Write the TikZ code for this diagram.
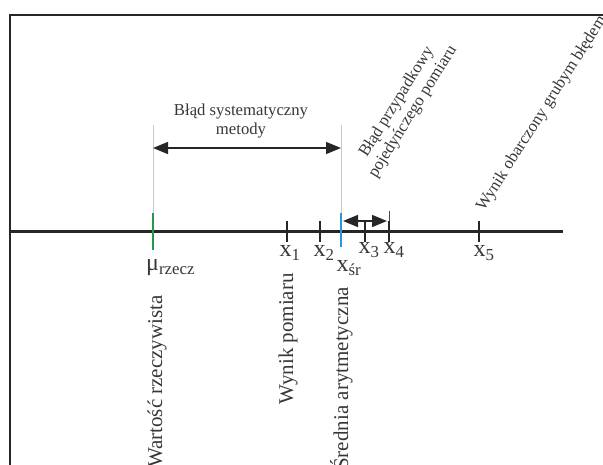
\documentclass[tikz,border=0pt]{standalone}
\usepackage{fontspec}
\setmainfont{Liberation Serif}
\usetikzlibrary{arrows.meta}

\definecolor{zielony}{RGB}{40,150,80}
\definecolor{niebieski}{RGB}{40,150,215}
\definecolor{szary}{RGB}{200,200,200}
\definecolor{tekst}{RGB}{55,55,55}

\tikzset{
  os/.style={line width=3pt,black!85},
  kreska/.style={line width=2.2pt,black!85},
  pomoc/.style={line width=1pt,szary},
  strzalka/.style={line width=1.5pt,black!85,
    {Triangle[length=15pt,width=12pt]}-{Triangle[length=15pt,width=12pt]}},
  opis/.style={text=tekst,font=\fontsize{16.7}{19}\selectfont,inner sep=0pt},
  pion/.style={text=tekst,font=\fontsize{21}{24}\selectfont,inner sep=0pt,
    rotate=90,anchor=base east},
  znak/.style={text=tekst,font=\fontsize{24}{26}\selectfont,inner sep=0pt}
}

\begin{document}
\begin{tikzpicture}[x=1pt,y=-1pt]
   \useasboundingbox (0,0) rectangle (603,464);
   \clip (0,0) rectangle (603,464);
   % ramka
   \draw[line width=2pt,black!85] (10,700) |- (700,15);
   % os liczbowa
   \coordinate (lewy)  at (10,231);
   \coordinate (prawy) at (563,231);
   \coordinate (mu)  at (153,231);
   \coordinate (x1)  at (287,231);
   \coordinate (x2)  at (320,231);
   \coordinate (xsr) at (341,231);
   \coordinate (x3)  at (365,231);
   \coordinate (x4)  at (389,231);
   \coordinate (x5)  at (479,231);
   \draw[os] (lewy) -- (prawy);
   \foreach \p in {x1,x2,x3,x4,x5}
      \draw[kreska] ([yshift=10pt]\p) -- ([yshift=-11pt]\p);
   \draw[kreska,zielony] ([yshift=18pt]mu) -- ([yshift=-19pt]mu);
   \draw[kreska,niebieski] ([yshift=18pt]xsr) -- ([yshift=-16pt]xsr);
   % linie pomocnicze
   \draw[pomoc] ([yshift=106pt]mu) -- ([yshift=18pt]mu);
   \draw[pomoc] ([yshift=106pt]xsr) -- ([yshift=18pt]xsr);
   \draw[line width=1pt,black!70] ([yshift=20pt]x4) -- ([yshift=10pt]x4);
   % bledy
   \draw[strzalka] ([yshift=83pt]mu) -- ([yshift=83pt]xsr);
   \draw[strzalka] ([xshift=2pt,yshift=10pt]xsr) -- ([xshift=-2pt,yshift=10pt]x4);
   \node[opis,align=center] (sys) at (241,121) {Błąd systematyczny\\metody};
   \node[opis,align=center,rotate=58] (przyp) at (405,107)
      {Błąd przypadkowy\\pojedyńczego pomiaru};
   \node[opis,rotate=57.5,anchor=base west] (gruby) at (484,212)
      {Wynik obarczony grubym błędem};
   % oznaczenia
   \node[znak,anchor=west] (lmu) at (146,268) {μ\textsubscript{rzecz}};
   \node[znak] (l1)  at (290,253) {x\textsubscript{1}};
   \node[znak] (l2)  at (324,253) {x\textsubscript{2}};
   \node[znak] (lsr) at (349,268) {x\textsubscript{śr}};
   \node[znak] (l3)  at (369,250) {x\textsubscript{3}};
   \node[znak] (l4)  at (394,250) {x\textsubscript{4}};
   \node[znak] (l5)  at (484,253) {x\textsubscript{5}};
   % opisy pionowe
   \node[pion] (rzecz) at (162,295) {Wartość rzeczywista};
   \node[pion] (pom)   at (293,273) {Wynik pomiaru};
   \node[pion] (sred)  at (348,287) {Średnia arytmetyczna};
\end{tikzpicture}
\end{document}
